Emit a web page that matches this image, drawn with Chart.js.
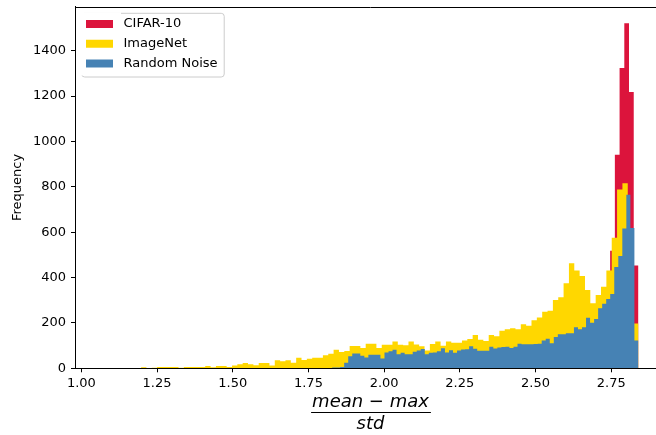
<!DOCTYPE html>
<html>
<head>
<meta charset="utf-8">
<title>Histogram</title>
<script src="https://cdn.jsdelivr.net/npm/chart.js@4.4.1/dist/chart.umd.min.js"></script>
<style>
  html, body { margin: 0; padding: 0; background: #fff; overflow: hidden; }
  canvas { display: block; }
</style>
</head>
<body>
<canvas id="histChart" width="668" height="435"></canvas>
<script>
// x = (mean - max) / std, each series has its own 100 equal bins
const seriesNames = ['CIFAR-10', 'ImageNet', 'Random Noise'];

// CIFAR-10: only its last bins rise above the other two
const cifarStart = 2.5283;
const cifarWidth = 0.015586;
const cifarCounts = [120, 140, 150, 170, 190, 210, 230, 240, 250, 260,
                     270, 300, 310, 340, 518, 941, 1324, 1521, 1218, 453];

const imagenetStart = 1.1972;
const imagenetWidth = 0.017665;
const imagenetCounts = [5, 1, 2, 6, 6, 6, 6, 2, 6, 6,
                        6, 6, 10, 5, 10, 10, 6, 12, 18, 23,
                        18, 13, 23, 23, 12, 35, 31, 35, 24, 47,
                        37, 42, 47, 47, 58, 64, 82, 72, 76, 98,
                        98, 89, 108, 108, 90, 104, 104, 118, 104, 102,
                        118, 105, 97, 78, 107, 118, 99, 118, 113, 113,
                        122, 129, 147, 126, 120, 147, 141, 166, 172, 177,
                        172, 194, 188, 212, 224, 249, 254, 301, 313, 375,
                        463, 431, 407, 345, 287, 323, 360, 431, 576, 788,
                        816, 600, 198];

const noiseStart = 1.8281;
const noiseWidth = 0.013314;
const noiseCounts = [4, 4, 6, 24, 53, 65, 65, 55, 48, 60,
                     60, 60, 43, 70, 75, 82, 62, 68, 62, 62,
                     73, 78, 85, 62, 68, 70, 75, 88, 70, 80,
                     68, 78, 83, 84, 97, 86, 77, 77, 77, 95,
                     87, 92, 94, 95, 90, 95, 108, 106, 106, 106,
                     107, 108, 122, 130, 110, 138, 150, 150, 154, 154,
                     181, 172, 181, 223, 201, 217, 265, 284, 306, 328,
                     447, 495, 616, 765, 619, 123];

const xTicks = [1.00, 1.25, 1.50, 1.75, 2.00, 2.25, 2.50, 2.75];
const yTicks = [0, 200, 400, 600, 800, 1000, 1200, 1400];
const xTitleLines = ['mean \u2212 max', 'std'];

function histPoints(start, width, counts) {
  const pts = [{ x: start, y: 0 }];
  counts.forEach((c, i) => pts.push({ x: start + i * width, y: c }));
  pts.push({ x: start + counts.length * width, y: 0 });
  return pts;
}

const font = 'DejaVu Sans';

// legend frame, top/right spines and the fraction bar of the x label
const axesExtras = {
  id: 'axesExtras',
  beforeDraw(chart) {
    const { ctx, chartArea: a, legend } = chart;
    const lab = legend.options.labels;
    legend.left = a.left + 3.3;
    legend.top = a.top + 5.6;
    legend.right = a.right;
    legend.bottom = a.bottom;

    ctx.save();
    ctx.font = '13px "DejaVu Sans"';
    const textW = Math.max(...seriesNames.map(n => ctx.measureText(n).width));
    const x0 = a.left + 6.7, y0 = a.top + 6.6;
    const x1 = legend.left + lab.padding + lab.boxWidth + 6.5 + textW + 6.7;
    const y1 = a.top + 70.3;
    ctx.beginPath();
    ctx.roundRect(x0, y0, x1 - x0, y1 - y0, 3);
    ctx.fillStyle = 'rgba(255,255,255,0.8)';
    ctx.fill();
    ctx.strokeStyle = '#cccccc';
    ctx.lineWidth = 1;
    ctx.stroke();
    ctx.restore();
  },
  afterDraw(chart) {
    const { ctx, chartArea: a } = chart;
    ctx.save();
    ctx.strokeStyle = '#000';
    ctx.lineWidth = 1;
    ctx.beginPath();
    ctx.moveTo(a.left, Math.round(a.top) + 0.5);
    ctx.lineTo(a.right, Math.round(a.top) + 0.5);
    ctx.lineTo(a.right, a.bottom);
    ctx.stroke();

    ctx.font = 'italic 18px "DejaVu Sans"';
    const w = ctx.measureText(xTitleLines[0]).width;
    const cx = (a.left + a.right) / 2;
    const by = Math.round(a.bottom + 43.4) + 0.5;
    ctx.beginPath();
    ctx.moveTo(cx - w / 2 - 1, by);
    ctx.lineTo(cx + w / 2 + 2, by);
    ctx.stroke();
    ctx.restore();
  }
};

new Chart(document.getElementById('histChart'), {
  type: 'line',
  data: {
    datasets: [
      {
        label: seriesNames[0],
        data: histPoints(cifarStart, cifarWidth, cifarCounts),
        backgroundColor: '#dc143c',
        order: 2
      },
      {
        label: seriesNames[1],
        data: histPoints(imagenetStart, imagenetWidth, imagenetCounts),
        backgroundColor: '#ffd700',
        order: 1
      },
      {
        label: seriesNames[2],
        data: histPoints(noiseStart, noiseWidth, noiseCounts),
        backgroundColor: '#4682b4',
        order: 0
      }
    ]
  },
  options: {
    responsive: false,
    animation: false,
    devicePixelRatio: 1,
    layout: { padding: { top: 6.7, right: 2, bottom: 0, left: 0 } },
    datasets: {
      line: {
        stepped: true,
        fill: 'origin',
        borderWidth: 0,
        borderColor: 'rgba(0,0,0,0)',
        pointRadius: 0,
        pointHoverRadius: 0
      }
    },
    scales: {
      x: {
        type: 'linear',
        min: 0.979,
        max: 2.931,
        border: { color: '#000', width: 1 },
        grid: { display: true, drawOnChartArea: false, drawTicks: true, tickLength: 4, tickColor: '#000' },
        ticks: {
          font: { family: font, size: 13 },
          color: '#000',
          padding: 4,
          maxRotation: 0,
          autoSkip: false,
          callback: v => v.toFixed(2)
        },
        afterBuildTicks: s => { s.ticks = xTicks.map(v => ({ value: v })); },
        afterFit: s => { s.height = 66.7; s.paddingLeft = 0; s.paddingRight = 0; },
        title: {
          display: true,
          text: xTitleLines,
          font: { family: font, size: 18, style: 'italic' },
          color: '#000',
          padding: { top: 0, bottom: 0 }
        }
      },
      y: {
        min: 0,
        max: 1594,
        border: { color: '#000', width: 1 },
        grid: { display: true, drawOnChartArea: false, drawTicks: true, tickLength: 4, tickColor: '#000' },
        ticks: {
          font: { family: font, size: 13 },
          color: '#000',
          padding: 5,
          callback: v => String(v)
        },
        afterBuildTicks: s => { s.ticks = yTicks.map(v => ({ value: v })); },
        afterFit: s => { s.width = 75; s.paddingTop = 0; s.paddingBottom = 0; },
        title: {
          display: true,
          text: 'Frequency',
          font: { family: font, size: 13 },
          color: '#000',
          padding: { top: 10 }
        }
      }
    },
    plugins: {
      legend: {
        position: 'chartArea',
        align: 'start',
        labels: {
          font: { family: font, size: 13 },
          color: '#000',
          boxWidth: 35,
          boxHeight: 16,
          padding: 3.7,
          generateLabels(chart) {
            const items = Chart.defaults.plugins.legend.labels.generateLabels(chart);
            items.forEach(it => { it.strokeStyle = '#fff'; it.lineWidth = 8; });
            return items;
          },
          sort: (a, b) => a.datasetIndex - b.datasetIndex
        }
      },
      tooltip: { enabled: false }
    }
  },
  plugins: [axesExtras]
});
</script>
</body>
</html>
